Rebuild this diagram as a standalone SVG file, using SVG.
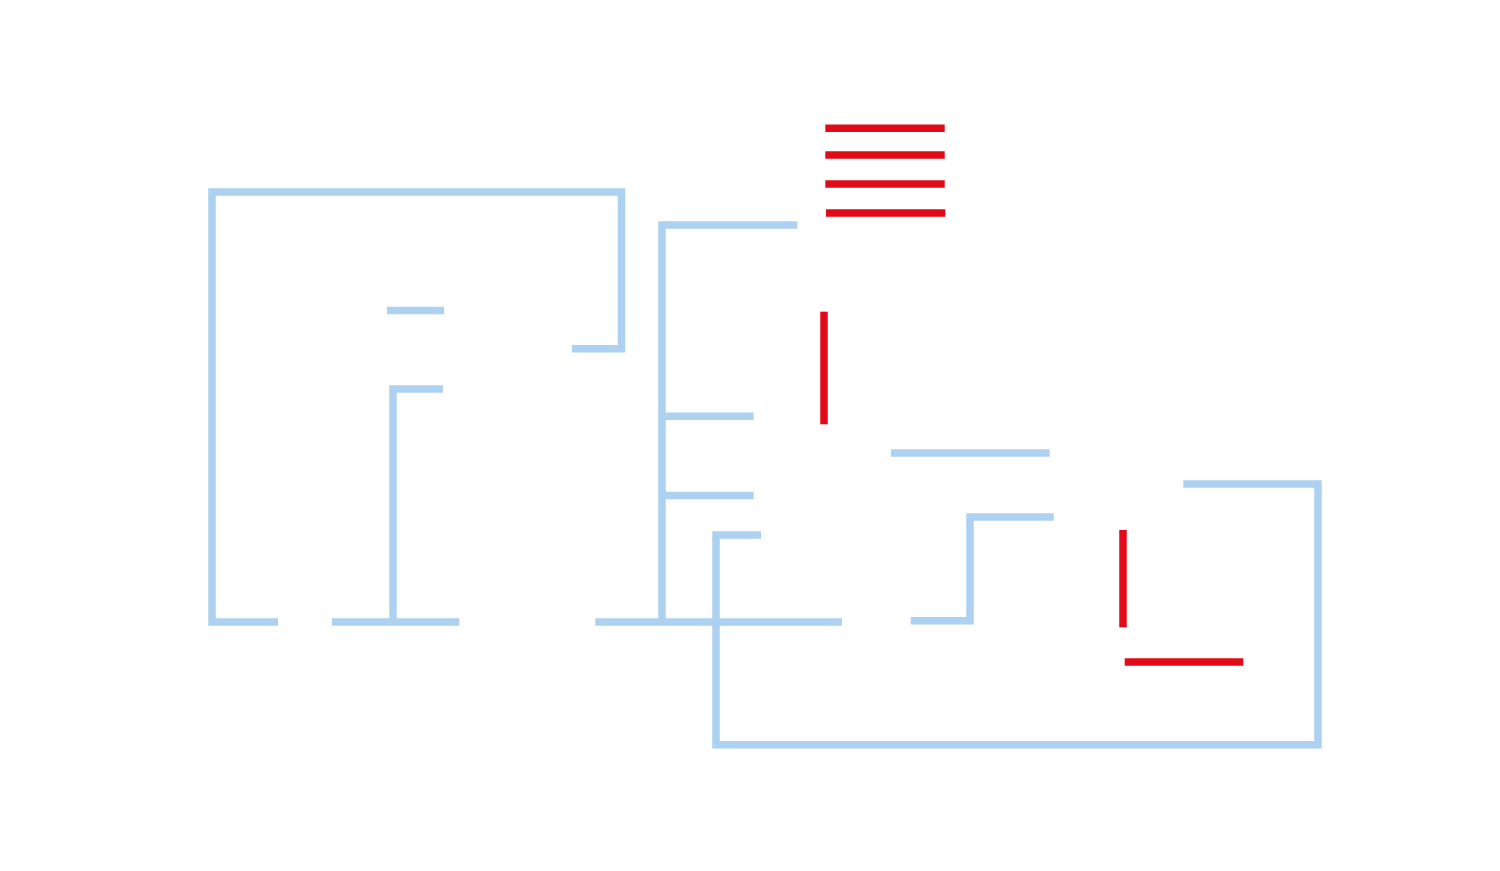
<svg xmlns="http://www.w3.org/2000/svg" width="1500" height="871" viewBox="0 0 1500 871">
<style>
.w{fill:none;stroke:#ADD1F1;stroke-width:7.5;stroke-linecap:butt;stroke-linejoin:miter}
.r{fill:none;stroke:#E30A18;stroke-width:7.5;stroke-linecap:butt}
</style>
<rect width="1500" height="871" fill="#fff"/>
<g id="connectors">
<polyline class="w" points="278,622 212,622 212,192 621.5,192 621.5,348.7 572,348.7"/>
<line class="w" x1="387" y1="310.5" x2="444" y2="310.5"/>
<polyline class="w" points="443,389 393,389 393,622"/>
<line class="w" x1="332" y1="622" x2="459.3" y2="622"/>
<polyline class="w" points="797.3,225 662,225 662,622"/>
<line class="w" x1="662" y1="416.3" x2="753.7" y2="416.3"/>
<line class="w" x1="662" y1="495.5" x2="753.7" y2="495.5"/>
<line class="w" x1="595.3" y1="622" x2="842" y2="622"/>
<polyline class="w" points="761,535 716,535 716,744.7 1318,744.7 1318,484 1183.3,484"/>
<line class="w" x1="891" y1="453" x2="1049.7" y2="453"/>
<polyline class="w" points="910.7,620.7 970,620.7 970,517 1053.7,517"/>
</g>
<g id="node-plates">
<line class="r" x1="825.3" y1="128.3" x2="944.7" y2="128.3"/>
<line class="r" x1="825.3" y1="155" x2="944.7" y2="155"/>
<line class="r" x1="825.3" y1="184" x2="944.7" y2="184"/>
<line class="r" x1="826" y1="213" x2="945.3" y2="213"/>
</g>
<g id="node-bar1">
<line class="r" x1="824" y1="311.7" x2="824" y2="424.3"/>
</g>
<g id="node-bar2">
<line class="r" x1="1123" y1="530" x2="1123" y2="627.3"/>
</g>
<g id="node-bar3">
<line class="r" x1="1124.7" y1="662" x2="1243.3" y2="662"/>
</g>
</svg>
